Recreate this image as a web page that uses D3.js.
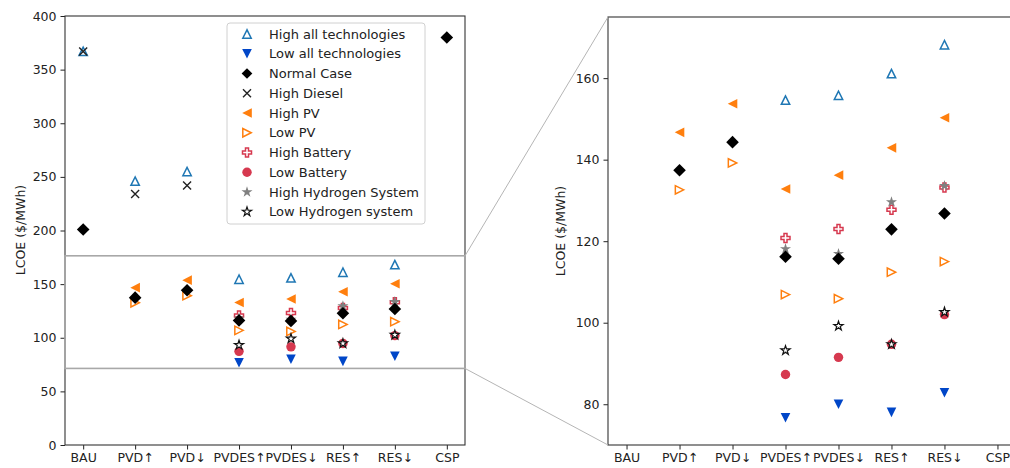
<!DOCTYPE html>
<html>
<head>
<meta charset="utf-8">
<script src="https://cdn.jsdelivr.net/npm/d3@7"></script>
<style>
  body { margin: 0; background: #fff; }
  text { font-family: "DejaVu Sans", sans-serif; fill: #222; }
</style>
</head>
<body>
<svg id="chart" width="1010" height="468"></svg>
<script>
//Categories on the x axis
var categories = ["BAU", "PVD↑", "PVD↓", "PVDES↑", "PVDES↓", "RES↑", "RES↓", "CSP"];

//LCOE values ($/MWh) per scenario, null where there is no point
var highAll = [367, 246, 255, 154.6, 155.8, 161.1, 168.2, null];
var lowAll = [null, null, null, 76.7, 80.0, 78.0, 82.8, null];
var normalCase = [201, 137.4, 144.3, 116.2, 115.7, 122.9, 126.8, 380];
var highDiesel = [367, 234, 242, null, null, null, null, null];
var highPV = [null, 146.7, 153.7, 132.8, 136.2, 142.9, 150.3, null];
var lowPV = [null, 132.6, 139.2, 106.9, 105.9, 112.4, 115.0, null];
var highBattery = [null, null, null, 120.8, 123.0, 127.7, 133.2, null];
var lowBattery = [null, null, null, 87.3, 91.5, 94.7, 102.0, null];
var highHydrogen = [null, null, null, 118.1, 116.9, 129.6, 133.6, null];
var lowHydrogen = [null, null, null, 93.2, 99.2, 94.7, 102.6, null];

var leftTicks = [0, 50, 100, 150, 200, 250, 300, 350, 400];
var rightTicks = [80, 100, 120, 140, 160];
var zoomRange = [70, 175];

var blue = "#1f77b4", darkBlue = "#0046c8", orange = "#ff7f0e", red = "#d6394f";

//Marker shapes drawn as paths (centered on 0,0)
function tri(r, angle) {
  var pts = [[0, -r], [-r, r], [r, r]].map(function (p) {
    var a = angle * Math.PI / 180;
    return [p[0] * Math.cos(a) - p[1] * Math.sin(a), p[0] * Math.sin(a) + p[1] * Math.cos(a)];
  });
  return "M" + pts.join("L") + "Z";
}
function plus(r) {
  var t = r / 3;
  return "M" + [[-t, -r], [t, -r], [t, -t], [r, -t], [r, t], [t, t], [t, r], [-t, r], [-t, t], [-r, t], [-r, -t], [-t, -t]].join("L") + "Z";
}
var shapes = {
  up: tri(4.2, 0),
  down: tri(4.8, 180),
  left: tri(4.8, 270),
  right: tri(4.2, 90),
  diamond: "M0,-6.3L6.3,0L0,6.3L-6.3,0Z",
  times: "M-4,-4L4,4M-4,4L4,-4",
  plus: plus(4.5),
  circle: d3.symbol(d3.symbolCircle, 70)(),
  star: d3.symbol(d3.symbolStar, 38)(),
  starSmall: d3.symbol(d3.symbolStar, 26)()
};

var series = [
  { name: "High all technologies", values: highAll, shape: "up", fill: "none", stroke: blue, sw: 1.5 },
  { name: "Low all technologies", values: lowAll, shape: "down", fill: darkBlue, stroke: "none", sw: 0 },
  { name: "High Diesel", values: highDiesel, shape: "times", fill: "none", stroke: "#222", sw: 1.4 },
  { name: "High PV", values: highPV, shape: "left", fill: orange, stroke: "none", sw: 0 },
  { name: "Low PV", values: lowPV, shape: "right", fill: "none", stroke: orange, sw: 1.5 },
  { name: "High Battery", values: highBattery, shape: "plus", fill: "none", stroke: red, sw: 1.5 },
  { name: "Low Battery", values: lowBattery, shape: "circle", fill: red, stroke: "none", sw: 0 },
  { name: "High Hydrogen System", values: highHydrogen, shape: "star", fill: "#808080", stroke: "none", sw: 0 },
  { name: "Low Hydrogen system", values: lowHydrogen, shape: "starSmall", fill: "#fff", stroke: "#111", sw: 1.2 },
  { name: "Normal Case", values: normalCase, shape: "diamond", fill: "#000", stroke: "none", sw: 0 }
];
var legendOrder = ["High all technologies", "Low all technologies", "Normal Case", "High Diesel", "High PV",
  "Low PV", "High Battery", "Low Battery", "High Hydrogen System", "Low Hydrogen system"];

var svg = d3.select("#chart");

//Scales of the two panels
var xL = d3.scaleLinear().domain([-0.35, 7.35]).range([65, 465]);
var yL = d3.scaleLinear().domain([0, 400]).range([445, 16]);
var xR = d3.scaleLinear().domain([-0.35, 7.35]).range([608, 1016]);
var yR = d3.scaleLinear().domain(zoomRange).range([445, 17]);

svg.append("defs").append("clipPath").attr("id", "clipR")
  .append("rect").attr("x", 608).attr("y", 17).attr("width", 408).attr("height", 428);

function drawPanel(x, y, ticks, clip) {
  var g = svg.append("g");
  var xAxis = d3.axisBottom(x).tickValues(d3.range(categories.length))
    .tickFormat(function (d) { return categories[d]; }).tickSizeOuter(0).tickSize(4.5).tickPadding(4);
  var yAxis = d3.axisLeft(y).tickValues(ticks).tickSizeOuter(0).tickSize(4.5).tickPadding(4);

  g.append("g").attr("transform", "translate(0," + y.range()[0] + ")").call(xAxis);
  g.append("g").attr("transform", "translate(" + x.range()[0] + ",0)").call(yAxis);
  g.selectAll(".tick text").attr("font-size", 12.5).attr("fill", "#222");
  g.selectAll(".tick line").attr("stroke", "#222");
  g.selectAll(".domain").remove();

  //Spines
  g.append("rect")
    .attr("x", x.range()[0]).attr("y", y.range()[1])
    .attr("width", x.range()[1] - x.range()[0]).attr("height", y.range()[0] - y.range()[1])
    .attr("fill", "none").attr("stroke", "#333").attr("stroke-width", 1.1);

  var marks = g.append("g");
  if (clip) marks.attr("clip-path", "url(#clipR)");
  series.forEach(function (s) {
    marks.selectAll(null)
      .data(s.values.map(function (v, i) { return { i: i, v: v }; })
        .filter(function (d) { return d.v != null; }))
      .enter().append("path")
        .attr("d", shapes[s.shape])
        .attr("transform", function (d) { return "translate(" + x(d.i) + "," + y(d.v) + ")"; })
        .attr("fill", s.fill)
        .attr("stroke", s.stroke)
        .attr("stroke-width", s.sw);
  });
  return g;
}

drawPanel(xL, yL, leftTicks, false);
drawPanel(xR, yR, rightTicks, true);

//Y axis labels
[[25, 230], [565, 231]].forEach(function (p) {
  svg.append("text")
    .attr("transform", "translate(" + p[0] + "," + p[1] + ") rotate(-90)")
    .attr("text-anchor", "middle")
    .attr("font-size", 12.5)
    .text("LCOE ($/MWh)");
});

//Zoom box on the left panel and connector lines
svg.append("rect")
  .attr("x", xL.range()[0]).attr("y", yL(zoomRange[1]) - 1.5)
  .attr("width", xL.range()[1] - xL.range()[0]).attr("height", yL(zoomRange[0]) - yL(zoomRange[1]))
  .attr("fill", "none").attr("stroke", "#a8a8a8").attr("stroke-width", 1.6);
svg.append("line")
  .attr("x1", xL.range()[1]).attr("y1", yL(zoomRange[1]) - 1.5)
  .attr("x2", xR.range()[0]).attr("y2", yR(zoomRange[1]))
  .attr("stroke", "#b5b5b5").attr("stroke-width", 1);
svg.append("line")
  .attr("x1", xL.range()[1]).attr("y1", yL(zoomRange[0]) - 1.5)
  .attr("x2", xR.range()[0]).attr("y2", yR(zoomRange[0]))
  .attr("stroke", "#b5b5b5").attr("stroke-width", 1);

//Legend
var legend = svg.append("g");
legend.append("rect")
  .attr("x", 227).attr("y", 23).attr("width", 198).attr("height", 201).attr("rx", 3)
  .attr("fill", "#fff").attr("fill-opacity", 0.8).attr("stroke", "#d0d0d0");
legendOrder.forEach(function (name, i) {
  var s = series.find(function (d) { return d.name === name; });
  var yy = 34 + i * 19.75;
  legend.append("path")
    .attr("d", shapes[s.shape])
    .attr("transform", "translate(247," + yy + ")" + (s.shape === "diamond" ? " scale(0.85)" : ""))
    .attr("fill", s.fill).attr("stroke", s.stroke).attr("stroke-width", s.sw);
  legend.append("text")
    .attr("x", 269).attr("y", yy + 4.5)
    .attr("font-size", 13)
    .text(name);
});
</script>
</body>
</html>
